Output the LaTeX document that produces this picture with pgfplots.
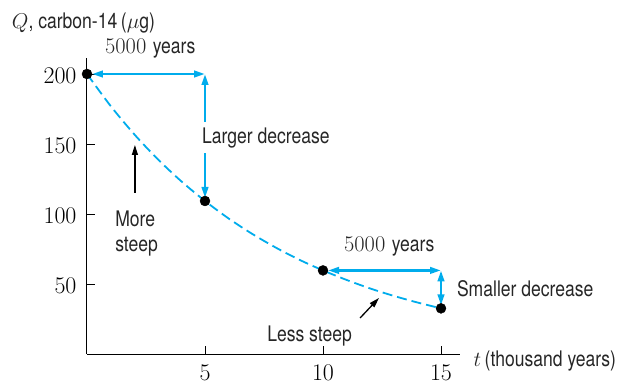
\RequirePackage{fix-cm}
\documentclass[border=0pt]{standalone}
\usepackage[no-math]{fontspec}
\setmainfont[FakeStretch=0.82]{TeX Gyre Heros}
\usepackage{pgfplots}
\pgfplotsset{compat=1.18}
\usetikzlibrary{arrows.meta}
\definecolor{cyanc}{RGB}{0,172,236}
\newcommand{\lbl}{\fontsize{21.5}{25}\selectfont}
\newcommand{\num}{\fontsize{22.5}{25}\selectfont}
\begin{document}
\begin{tikzpicture}
\begin{axis}[
  name=ax,
  scale only axis,
  x=23.6bp, y=1.4bp,
  xmin=0, xmax=15.8, ymin=0, ymax=211.4,
  axis lines=left,
  axis line style={-, line width=1bp, black},
  xtick={5,10,15}, ytick={50,100,150,200},
  tick align=inside, major tick length=8bp,
  tick style={line width=0.8bp, black},
  ticklabel style={font=\fontsize{24}{24}\selectfont},
  xticklabel style={yshift=-8bp},
  yticklabel style={xshift=-7bp, yshift=-2bp},
  clip=false,
]
\addplot[cyanc, line width=1.8bp, dash pattern=on 10bp off 5bp, smooth] coordinates {
 (0,200) (1,177.2) (2,157.0) (3,139.1) (4,123.3) (5,109.3) (6,96.8) (7,85.8)
 (8,76.0) (9,67.3) (10,59.7) (11,52.9) (12,46.8) (13,41.5) (14,36.8) (15,32.6)};
\addplot[only marks, mark=*, mark size=5bp, black] coordinates {
 (0,200) (5,109.3) (10,59.7) (15,32.6)};
% cyan arrows
\draw[cyanc, line width=2.5bp, {Triangle[length=11bp,width=6.5bp]}-{Triangle[length=11bp,width=6.5bp]}, shorten <=5bp]
  (axis cs:0,200) -- (axis cs:5,200);
\draw[cyanc, line width=2.5bp, {Triangle[length=11bp,width=6.5bp]}-{Triangle[length=11bp,width=6.5bp]}, shorten >=3bp]
  (axis cs:5,200) -- (axis cs:5,109.3);
\draw[cyanc, line width=2.5bp, {Triangle[length=11bp,width=6.5bp]}-{Triangle[length=11bp,width=6.5bp]}, shorten <=5bp]
  (axis cs:10,59.7) -- (axis cs:15,59.7);
\draw[cyanc, line width=2.5bp, {Triangle[length=11bp,width=6.5bp]}-{Triangle[length=11bp,width=6.5bp]}, shorten >=3bp]
  (axis cs:15,59.7) -- (axis cs:15,32.6);
% black arrows
\draw[black, line width=1.3bp, -{Triangle[length=10bp,width=6bp]}]
  (axis cs:2.03,115) -- (axis cs:2.03,149.3);
\draw[black, line width=1.3bp, -{Triangle[length=10bp,width=6bp]}]
  (axis cs:11.57,25.7) -- (axis cs:12.37,40);
% labels
\node[anchor=base west, fill=white, inner xsep=0pt, inner ysep=5.5bp, text=black!85] at (axis cs:4.87,150.5) {\lbl Larger decrease};
\node[anchor=base west, inner sep=0pt, text=black!85] at (axis cs:1.19,90.9) {\lbl More};
\node[anchor=base west, inner sep=0pt, text=black!85] at (axis cs:1.19,73.1) {\lbl steep};
\node[anchor=base west, inner sep=0pt, text=black!85] at (axis cs:7.63,8.8) {\lbl Less steep};
\node[anchor=base west, inner sep=0pt, text=black!85] at (axis cs:15.67,40.9) {\lbl Smaller decrease};
\node[anchor=base west, inner sep=0pt, text=black!85] at (axis cs:10.89,73.1) {\num $5000$\hspace{6.5bp}\lbl years};
\node[anchor=base west, inner sep=0pt, text=black!85] at (axis cs:0.763,214.8) {\num $5000$\hspace{6.5bp}\lbl years};
\node[anchor=base west, inner sep=0pt, text=black!85] at (axis cs:-3.19,232.6) {\lbl $Q$, carbon-14\,($\mu$g)};
\node[anchor=base west, inner sep=0pt, text=black!85] at (axis cs:16.37,-8.6) {\lbl $t$\,(thousand years)};
\end{axis}
\pgfresetboundingbox
\path[use as bounding box] ([shift={(-87bp,-31bp)}]ax.south west) rectangle ([shift={(536bp,354bp)}]ax.south west);
\end{tikzpicture}
\end{document}
